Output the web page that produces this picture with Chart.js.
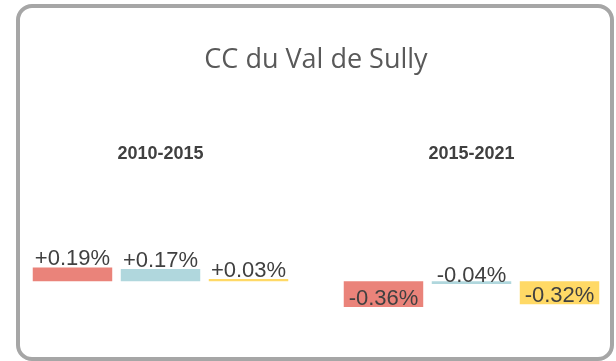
<!DOCTYPE html>
<html lang="fr">
<head>
<meta charset="utf-8">
<title>CC du Val de Sully</title>
<script src="https://cdn.jsdelivr.net/npm/chart.js@4/dist/chart.umd.min.js"></script>
<style>
  html, body { margin: 0; padding: 0; background: #ffffff; overflow: hidden; }
  #stage { position: relative; width: 616px; height: 361px; overflow: hidden; }
  #frame {
    position: absolute; left: 16px; top: 4px; width: 598px; height: 357px;
    border: 4px solid #a6a6a6; border-radius: 16px;
    box-sizing: border-box; pointer-events: none;
  }
  #wrap { position: absolute; left: 0; top: 0; width: 632px; height: 361px; }
  #chart { display: block; }
</style>
</head>
<body>
<div id="stage">
  <div id="wrap"><canvas id="chart" width="632" height="361"></canvas></div>
  <div id="frame"></div>
</div>
<script>
// Périodes et variations annuelles moyennes de la population (en %)
const categories = ['2010-2015', '2015-2021'];
const variationTotale = [0.19, -0.36];
const soldeNaturel = [0.17, -0.04];
const soldeMigratoire = [0.03, -0.32];

const colors = ['#ea837a', '#b0d7dd', '#ffd966'];

// Étiquettes de valeur : ligne de base posée juste au-dessus de l'extrémité de chaque barre
const valueLabels = {
  id: 'valueLabels',
  afterDatasetsDraw(chart) {
    const ctx = chart.ctx;
    ctx.save();
    ctx.font = '22px "Liberation Sans", Arial, sans-serif';
    ctx.fillStyle = '#404040';
    ctx.textAlign = 'center';
    ctx.textBaseline = 'alphabetic';
    chart.data.datasets.forEach((ds, i) => {
      chart.getDatasetMeta(i).data.forEach((bar, j) => {
        const v = ds.data[j];
        const txt = (v > 0 ? '+' : '') + v.toFixed(2) + '%';
        ctx.fillText(txt, bar.x, bar.y - 2);
      });
    });
    ctx.restore();
  }
};

new Chart(document.getElementById('chart'), {
  type: 'bar',
  data: {
    labels: categories,
    datasets: [
      { label: 'Variation annuelle moyenne', data: variationTotale, backgroundColor: colors[0] },
      { label: 'due au solde naturel', data: soldeNaturel, backgroundColor: colors[1] },
      { label: 'due au solde apparent des entrées-sorties', data: soldeMigratoire, backgroundColor: colors[2] }
    ]
  },
  options: {
    responsive: false,
    animation: false,
    devicePixelRatio: 1,
    layout: { padding: { left: 5, right: 5, top: 0, bottom: 8 } },
    datasets: { bar: { categoryPercentage: 0.849, barPercentage: 0.903 } },
    plugins: {
      legend: { display: false },
      tooltip: { enabled: false },
      title: {
        display: true,
        text: 'CC du Val de Sully',
        color: '#595959',
        font: { family: '"Open Sans", sans-serif', size: 27, weight: 'normal', lineHeight: 1.2 },
        padding: { top: 44, bottom: 63 }
      }
    },
    scales: {
      x: {
        position: 'top',
        grid: { display: false, drawTicks: false },
        border: { display: false },
        ticks: {
          color: '#404040',
          padding: 4,
          font: { family: '"Liberation Sans", Arial, sans-serif', size: 18, weight: 'bold', lineHeight: 1.2 }
        }
      },
      y: {
        display: false,
        min: -1.0,
        max: 1.56
      }
    }
  },
  plugins: [valueLabels]
});
</script>
</body>
</html>
